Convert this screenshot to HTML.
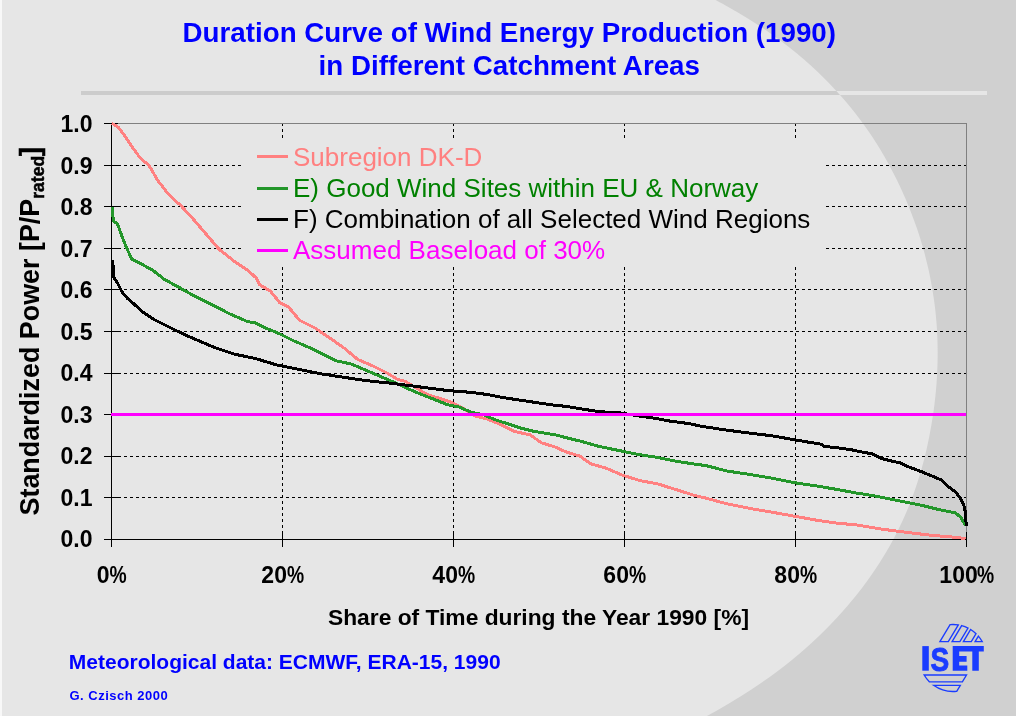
<!DOCTYPE html>
<html><head><meta charset="utf-8"><style>
html,body{margin:0;padding:0;width:1016px;height:716px;overflow:hidden;background:#e6e6e6}
svg{display:block;font-family:"Liberation Sans",sans-serif;will-change:transform}
</style></head><body>
<svg width="1016" height="716" viewBox="0 0 1016 716">
<rect x="0" y="0" width="1016" height="716" fill="#d0d0d0"/>
<path d="M0,0 L715.7,0.0 C719.3,2.0 730.3,8.0 737.1,12.0 C743.9,16.0 750.3,20.0 756.5,24.0 C762.7,28.0 768.5,32.0 774.1,36.0 C779.7,40.0 785.0,44.0 790.1,48.0 C795.2,52.0 800.0,56.0 804.6,60.0 C809.2,64.0 813.6,68.0 817.8,72.0 C822.0,76.0 825.9,80.0 829.8,84.0 C833.6,88.0 837.3,92.0 840.9,96.0 C844.5,100.0 847.9,104.0 851.1,108.0 C854.4,112.0 857.4,116.0 860.4,120.0 C863.4,124.0 866.2,128.0 869.0,132.0 C871.8,136.0 874.4,140.0 876.9,144.0 C879.4,148.0 881.8,152.0 884.1,156.0 C886.4,160.0 888.6,164.0 890.7,168.0 C892.8,172.0 894.9,176.0 896.9,180.0 C898.9,184.0 900.7,188.0 902.5,192.0 C904.3,196.0 906.1,200.0 907.7,204.0 C909.4,208.0 910.9,212.0 912.4,216.0 C913.9,220.0 915.4,224.0 916.8,228.0 C918.2,232.0 919.5,236.0 920.7,240.0 C921.9,244.0 923.1,248.0 924.2,252.0 C925.3,256.0 926.2,260.0 927.2,264.0 C928.2,268.0 929.1,272.0 929.9,276.0 C930.7,280.0 931.4,284.0 932.1,288.0 C932.8,292.0 933.4,296.0 934.0,300.0 C934.6,304.0 935.1,308.0 935.5,312.0 C935.9,316.0 936.3,320.0 936.6,324.0 C936.9,328.0 937.1,332.0 937.3,336.0 C937.5,340.0 937.5,344.0 937.6,348.0 C937.7,352.0 937.7,356.0 937.6,360.0 C937.5,364.0 937.4,368.0 937.2,372.0 C937.0,376.0 936.8,380.0 936.5,384.0 C936.2,388.0 935.8,392.0 935.4,396.0 C935.0,400.0 934.5,404.0 934.0,408.0 C933.5,412.0 932.9,416.0 932.2,420.0 C931.6,424.0 930.9,428.0 930.1,432.0 C929.4,436.0 928.6,440.0 927.7,444.0 C926.9,448.0 926.0,452.0 925.0,456.0 C924.0,460.0 922.9,464.0 921.8,468.0 C920.7,472.0 919.5,476.0 918.2,480.0 C916.9,484.0 915.6,488.0 914.2,492.0 C912.8,496.0 911.3,500.0 909.7,504.0 C908.1,508.0 906.5,512.0 904.7,516.0 C902.9,520.0 901.1,524.0 899.1,528.0 C897.1,532.0 895.1,536.0 893.0,540.0 C890.9,544.0 888.6,548.0 886.2,552.0 C883.8,556.0 881.4,560.0 878.8,564.0 C876.2,568.0 873.5,572.0 870.7,576.0 C867.9,580.0 865.0,584.0 862.0,588.0 C859.0,592.0 855.7,596.0 852.4,600.0 C849.1,604.0 845.7,608.0 842.1,612.0 C838.5,616.0 834.9,620.0 831.0,624.0 C827.1,628.0 823.2,632.0 819.0,636.0 C814.8,640.0 810.5,644.0 806.0,648.0 C801.5,652.0 796.8,656.0 791.9,660.0 C787.0,664.0 781.9,668.0 776.5,672.0 C771.1,676.0 765.5,680.0 759.6,684.0 C753.7,688.0 747.7,692.0 741.3,696.0 C734.9,700.0 727.0,704.7 721.3,708.0 C715.6,711.3 709.3,714.7 706.9,716.0 L0,716 Z" fill="#e6e6e6"/>
<rect x="0" y="0" width="2" height="716" fill="#f8f8f8"/>
<defs><clipPath id="lc"><path d="M0,0 L715.7,0.0 C719.3,2.0 730.3,8.0 737.1,12.0 C743.9,16.0 750.3,20.0 756.5,24.0 C762.7,28.0 768.5,32.0 774.1,36.0 C779.7,40.0 785.0,44.0 790.1,48.0 C795.2,52.0 800.0,56.0 804.6,60.0 C809.2,64.0 813.6,68.0 817.8,72.0 C822.0,76.0 825.9,80.0 829.8,84.0 C833.6,88.0 837.3,92.0 840.9,96.0 C844.5,100.0 847.9,104.0 851.1,108.0 C854.4,112.0 857.4,116.0 860.4,120.0 C863.4,124.0 866.2,128.0 869.0,132.0 C871.8,136.0 874.4,140.0 876.9,144.0 C879.4,148.0 881.8,152.0 884.1,156.0 C886.4,160.0 888.6,164.0 890.7,168.0 C892.8,172.0 894.9,176.0 896.9,180.0 C898.9,184.0 900.7,188.0 902.5,192.0 C904.3,196.0 906.1,200.0 907.7,204.0 C909.4,208.0 910.9,212.0 912.4,216.0 C913.9,220.0 915.4,224.0 916.8,228.0 C918.2,232.0 919.5,236.0 920.7,240.0 C921.9,244.0 923.1,248.0 924.2,252.0 C925.3,256.0 926.2,260.0 927.2,264.0 C928.2,268.0 929.1,272.0 929.9,276.0 C930.7,280.0 931.4,284.0 932.1,288.0 C932.8,292.0 933.4,296.0 934.0,300.0 C934.6,304.0 935.1,308.0 935.5,312.0 C935.9,316.0 936.3,320.0 936.6,324.0 C936.9,328.0 937.1,332.0 937.3,336.0 C937.5,340.0 937.5,344.0 937.6,348.0 C937.7,352.0 937.7,356.0 937.6,360.0 C937.5,364.0 937.4,368.0 937.2,372.0 C937.0,376.0 936.8,380.0 936.5,384.0 C936.2,388.0 935.8,392.0 935.4,396.0 C935.0,400.0 934.5,404.0 934.0,408.0 C933.5,412.0 932.9,416.0 932.2,420.0 C931.6,424.0 930.9,428.0 930.1,432.0 C929.4,436.0 928.6,440.0 927.7,444.0 C926.9,448.0 926.0,452.0 925.0,456.0 C924.0,460.0 922.9,464.0 921.8,468.0 C920.7,472.0 919.5,476.0 918.2,480.0 C916.9,484.0 915.6,488.0 914.2,492.0 C912.8,496.0 911.3,500.0 909.7,504.0 C908.1,508.0 906.5,512.0 904.7,516.0 C902.9,520.0 901.1,524.0 899.1,528.0 C897.1,532.0 895.1,536.0 893.0,540.0 C890.9,544.0 888.6,548.0 886.2,552.0 C883.8,556.0 881.4,560.0 878.8,564.0 C876.2,568.0 873.5,572.0 870.7,576.0 C867.9,580.0 865.0,584.0 862.0,588.0 C859.0,592.0 855.7,596.0 852.4,600.0 C849.1,604.0 845.7,608.0 842.1,612.0 C838.5,616.0 834.9,620.0 831.0,624.0 C827.1,628.0 823.2,632.0 819.0,636.0 C814.8,640.0 810.5,644.0 806.0,648.0 C801.5,652.0 796.8,656.0 791.9,660.0 C787.0,664.0 781.9,668.0 776.5,672.0 C771.1,676.0 765.5,680.0 759.6,684.0 C753.7,688.0 747.7,692.0 741.3,696.0 C734.9,700.0 727.0,704.7 721.3,708.0 C715.6,711.3 709.3,714.7 706.9,716.0 L0,716 Z"/></clipPath></defs>
<rect x="81" y="91" width="906" height="4" fill="#e6e6e6"/>
<rect x="81" y="91" width="906" height="4" fill="#cccccc" clip-path="url(#lc)"/>
<line x1="112" y1="497.5" x2="966" y2="497.5" stroke="#000" stroke-width="1" stroke-dasharray="3 3" shape-rendering="crispEdges"/>
<line x1="112" y1="456.5" x2="966" y2="456.5" stroke="#000" stroke-width="1" stroke-dasharray="3 3" shape-rendering="crispEdges"/>
<line x1="112" y1="414.5" x2="966" y2="414.5" stroke="#000" stroke-width="1" stroke-dasharray="3 3" shape-rendering="crispEdges"/>
<line x1="112" y1="373.5" x2="966" y2="373.5" stroke="#000" stroke-width="1" stroke-dasharray="3 3" shape-rendering="crispEdges"/>
<line x1="112" y1="331.5" x2="966" y2="331.5" stroke="#000" stroke-width="1" stroke-dasharray="3 3" shape-rendering="crispEdges"/>
<line x1="112" y1="289.5" x2="966" y2="289.5" stroke="#000" stroke-width="1" stroke-dasharray="3 3" shape-rendering="crispEdges"/>
<line x1="112" y1="248.5" x2="242" y2="248.5" stroke="#000" stroke-width="1" stroke-dasharray="3 3" shape-rendering="crispEdges"/>
<line x1="826" y1="248.5" x2="966" y2="248.5" stroke="#000" stroke-width="1" stroke-dasharray="3 3" shape-rendering="crispEdges"/>
<line x1="112" y1="206.5" x2="242" y2="206.5" stroke="#000" stroke-width="1" stroke-dasharray="3 3" shape-rendering="crispEdges"/>
<line x1="826" y1="206.5" x2="966" y2="206.5" stroke="#000" stroke-width="1" stroke-dasharray="3 3" shape-rendering="crispEdges"/>
<line x1="112" y1="165.5" x2="242" y2="165.5" stroke="#000" stroke-width="1" stroke-dasharray="3 3" shape-rendering="crispEdges"/>
<line x1="826" y1="165.5" x2="966" y2="165.5" stroke="#000" stroke-width="1" stroke-dasharray="3 3" shape-rendering="crispEdges"/>
<line x1="282.5" y1="123" x2="282.5" y2="138" stroke="#000" stroke-width="1" stroke-dasharray="3 3" shape-rendering="crispEdges"/>
<line x1="282.5" y1="267" x2="282.5" y2="539" stroke="#000" stroke-width="1" stroke-dasharray="3 3" shape-rendering="crispEdges"/>
<line x1="453.5" y1="123" x2="453.5" y2="138" stroke="#000" stroke-width="1" stroke-dasharray="3 3" shape-rendering="crispEdges"/>
<line x1="453.5" y1="267" x2="453.5" y2="539" stroke="#000" stroke-width="1" stroke-dasharray="3 3" shape-rendering="crispEdges"/>
<line x1="624.5" y1="123" x2="624.5" y2="138" stroke="#000" stroke-width="1" stroke-dasharray="3 3" shape-rendering="crispEdges"/>
<line x1="624.5" y1="267" x2="624.5" y2="539" stroke="#000" stroke-width="1" stroke-dasharray="3 3" shape-rendering="crispEdges"/>
<line x1="795.5" y1="123" x2="795.5" y2="138" stroke="#000" stroke-width="1" stroke-dasharray="3 3" shape-rendering="crispEdges"/>
<line x1="795.5" y1="267" x2="795.5" y2="539" stroke="#000" stroke-width="1" stroke-dasharray="3 3" shape-rendering="crispEdges"/>
<line x1="111" y1="123.5" x2="967" y2="123.5" stroke="#808080" stroke-width="1"/>
<line x1="966.5" y1="123" x2="966.5" y2="539" stroke="#808080" stroke-width="1"/>
<line x1="111.5" y1="123" x2="111.5" y2="540" stroke="#000" stroke-width="1"/>
<line x1="111" y1="539.5" x2="967" y2="539.5" stroke="#000" stroke-width="1"/>
<line x1="104" y1="539.5" x2="118" y2="539.5" stroke="#000" stroke-width="1"/>
<line x1="104" y1="497.5" x2="118" y2="497.5" stroke="#000" stroke-width="1"/>
<line x1="104" y1="456.5" x2="118" y2="456.5" stroke="#000" stroke-width="1"/>
<line x1="104" y1="414.5" x2="118" y2="414.5" stroke="#000" stroke-width="1"/>
<line x1="104" y1="373.5" x2="118" y2="373.5" stroke="#000" stroke-width="1"/>
<line x1="104" y1="331.5" x2="118" y2="331.5" stroke="#000" stroke-width="1"/>
<line x1="104" y1="289.5" x2="118" y2="289.5" stroke="#000" stroke-width="1"/>
<line x1="104" y1="248.5" x2="118" y2="248.5" stroke="#000" stroke-width="1"/>
<line x1="104" y1="206.5" x2="118" y2="206.5" stroke="#000" stroke-width="1"/>
<line x1="104" y1="165.5" x2="118" y2="165.5" stroke="#000" stroke-width="1"/>
<line x1="104" y1="123.5" x2="118" y2="123.5" stroke="#000" stroke-width="1"/>
<line x1="111.5" y1="532" x2="111.5" y2="547" stroke="#000" stroke-width="1"/>
<line x1="282.5" y1="532" x2="282.5" y2="547" stroke="#000" stroke-width="1"/>
<line x1="453.5" y1="532" x2="453.5" y2="547" stroke="#000" stroke-width="1"/>
<line x1="624.5" y1="532" x2="624.5" y2="547" stroke="#000" stroke-width="1"/>
<line x1="795.5" y1="532" x2="795.5" y2="547" stroke="#000" stroke-width="1"/>
<line x1="966.5" y1="532" x2="966.5" y2="547" stroke="#000" stroke-width="1"/>
<polyline points="111.8,123.2 118.7,127.7 124.6,135.5 132.4,147.3 140.2,158.0 149.0,165.4 157.8,180.5 167.6,193.2 174.3,200.0 180.3,205.0 192.2,217.9 205.6,233.5 219.0,249.2 234.6,261.5 248.0,270.4 256.1,277.9 259.5,284.6 270.6,291.3 279.6,302.5 288.5,307.0 299.7,320.4 315.3,328.2 328.7,337.2 344.4,348.3 357.8,359.5 373.4,366.2 386.8,372.9 398.0,379.6 405.0,381.2 416.2,387.9 427.3,394.6 438.5,398.0 451.9,402.5 463.1,408.0 474.3,415.9 487.7,419.2 501.1,424.8 514.5,431.5 530.1,434.9 541.3,442.7 555.0,447.0 566.2,452.0 579.6,456.0 590.8,463.8 606.4,468.3 622.0,475.0 639.9,480.6 657.8,483.9 675.7,489.5 693.5,495.1 705.0,497.9 727.3,503.9 749.7,508.4 772.0,512.2 794.4,516.2 816.7,520.2 839.1,523.4 855.0,524.7 880.1,528.9 905.3,532.2 930.4,535.2 955.6,537.3 965.6,538.6" fill="none" stroke="#ff8080" stroke-width="3" stroke-linejoin="round" shape-rendering="crispEdges"/>
<polyline points="112.4,206.9 113.3,221.2 117.3,223.5 121.8,235.8 126.2,246.9 131.8,259.2 140.8,263.7 153.0,270.4 164.2,279.3 178.7,287.2 194.4,296.1 212.3,305.0 230.1,314.0 248.0,321.8 255.0,322.6 266.2,328.2 279.6,333.8 293.0,340.5 308.6,347.2 322.0,353.9 335.4,360.6 351.1,364.0 364.5,369.6 380.1,376.3 398.0,384.1 413.9,391.3 425.1,395.8 436.3,400.2 447.5,404.7 458.6,406.9 472.0,412.5 483.2,414.7 496.6,420.3 507.8,423.7 521.2,428.2 534.6,431.5 548.0,433.7 555.0,434.7 566.2,437.7 581.8,441.5 599.7,446.6 622.0,451.1 637.7,454.4 655.6,457.1 677.9,461.6 700.3,464.9 705.0,465.3 727.3,471.1 749.7,474.4 772.0,478.2 794.4,482.7 816.7,486.0 839.1,489.8 855.0,492.8 871.8,495.4 888.5,498.7 905.3,502.1 922.0,505.4 938.8,509.6 955.6,513.0 960.6,517.1 965.6,525.5" fill="none" stroke="#23962a" stroke-width="3" stroke-linejoin="round" shape-rendering="crispEdges"/>
<polyline points="112.8,260.3 113.5,277.1 117.3,282.7 121.8,291.6 127.3,298.3 134.0,303.9 140.8,310.6 154.2,319.6 167.6,326.3 183.2,334.0 198.9,340.8 214.5,347.5 234.6,354.2 255.0,358.4 277.3,365.1 299.7,369.6 322.0,374.0 344.4,377.4 366.7,380.7 389.1,383.0 405.0,385.0 427.3,387.9 449.7,390.8 472.0,392.4 487.7,394.6 505.6,398.0 527.9,401.3 550.3,404.7 566.2,406.4 581.8,409.0 599.7,411.7 622.0,413.1 637.7,415.8 655.6,418.4 671.2,421.3 689.1,423.6 702.5,426.5 727.3,430.2 749.7,433.1 772.0,435.8 794.4,439.8 810.0,442.4 821.5,444.2 824.2,446.4 836.6,447.7 849.9,449.5 858.7,451.3 872.0,453.9 880.9,458.3 889.7,460.6 900.0,462.8 908.6,466.9 922.0,471.9 932.1,476.1 942.1,480.3 948.8,487.0 955.6,492.0 960.6,498.7 963.9,505.4 965.6,513.0 966.2,526.0" fill="none" stroke="#000" stroke-width="3" stroke-linejoin="round" shape-rendering="crispEdges"/>
<line x1="111" y1="414.5" x2="966" y2="414.5" stroke="#ff00ff" stroke-width="3"/>
<line x1="257" y1="156.5" x2="288" y2="156.5" stroke="#ff8080" stroke-width="3"/>
<text x="293" y="165.8" font-size="26" fill="#ff8080">Subregion DK-D</text>
<line x1="257" y1="188.5" x2="288" y2="188.5" stroke="#23962a" stroke-width="3"/>
<text x="293" y="197" font-size="26" fill="#008000">E) Good Wind Sites within EU &amp; Norway</text>
<line x1="257" y1="219.5" x2="288" y2="219.5" stroke="#000000" stroke-width="3"/>
<text x="293" y="228" font-size="26" fill="#000000">F) Combination of all Selected Wind Regions</text>
<line x1="257" y1="250.5" x2="288" y2="250.5" stroke="#ff00ff" stroke-width="3"/>
<text x="293" y="259" font-size="26" fill="#ff00ff">Assumed Baseload of 30%</text>
<text x="92.5" y="547.0" font-size="23" font-weight="bold" text-anchor="end">0.0</text>
<text x="92.5" y="505.5" font-size="23" font-weight="bold" text-anchor="end">0.1</text>
<text x="92.5" y="464.0" font-size="23" font-weight="bold" text-anchor="end">0.2</text>
<text x="92.5" y="422.5" font-size="23" font-weight="bold" text-anchor="end">0.3</text>
<text x="92.5" y="381.0" font-size="23" font-weight="bold" text-anchor="end">0.4</text>
<text x="92.5" y="339.5" font-size="23" font-weight="bold" text-anchor="end">0.5</text>
<text x="92.5" y="298.0" font-size="23" font-weight="bold" text-anchor="end">0.6</text>
<text x="92.5" y="256.5" font-size="23" font-weight="bold" text-anchor="end">0.7</text>
<text x="92.5" y="215.0" font-size="23" font-weight="bold" text-anchor="end">0.8</text>
<text x="92.5" y="173.5" font-size="23" font-weight="bold" text-anchor="end">0.9</text>
<text x="92.5" y="132.0" font-size="23" font-weight="bold" text-anchor="end">1.0</text>
<text x="96.85" y="583" font-size="23" font-weight="bold">0</text>
<text transform="translate(109.41,583.3) scale(0.84,1.06)" font-size="23" font-weight="bold">%</text>
<text x="261.35" y="583" font-size="23" font-weight="bold">20</text>
<text transform="translate(286.91,583.3) scale(0.84,1.06)" font-size="23" font-weight="bold">%</text>
<text x="432.35" y="583" font-size="23" font-weight="bold">40</text>
<text transform="translate(457.91,583.3) scale(0.84,1.06)" font-size="23" font-weight="bold">%</text>
<text x="603.35" y="583" font-size="23" font-weight="bold">60</text>
<text transform="translate(628.91,583.3) scale(0.84,1.06)" font-size="23" font-weight="bold">%</text>
<text x="774.35" y="583" font-size="23" font-weight="bold">80</text>
<text transform="translate(799.91,583.3) scale(0.84,1.06)" font-size="23" font-weight="bold">%</text>
<text x="939.35" y="583" font-size="23" font-weight="bold">100</text>
<text transform="translate(976.91,583.3) scale(0.84,1.06)" font-size="23" font-weight="bold">%</text>
<text x="538.5" y="624.5" font-size="22.8" font-weight="bold" text-anchor="middle">Share of Time during the Year 1990 [%]</text>
<text transform="translate(39.3,515.5) rotate(-90)" x="0" y="0" font-size="26.9" font-weight="bold">Standardized Power [P/P<tspan font-size="17.5" dy="4.2" stroke="#000" stroke-width="0.5">rated</tspan><tspan dy="-4.2" stroke="#000" stroke-width="0.6">]</tspan></text>
<text x="509.3" y="42" font-size="27.75" font-weight="bold" fill="#0000ff" text-anchor="middle">Duration Curve of Wind Energy Production (1990)</text>
<text x="509.3" y="75" font-size="27.75" font-weight="bold" fill="#0000ff" text-anchor="middle">in Different Catchment Areas</text>
<text x="68.8" y="669" font-size="21" font-weight="bold" fill="#0000ff">Meteorological data: ECMWF, ERA-15, 1990</text>
<text x="69.5" y="700" font-size="13" font-weight="bold" fill="#0000ff" letter-spacing="0.5">G. Czisch 2000</text>
<path d="M939.9,641.6 L950.08,624.63 A33.5,33.5 0 0,1 958.31,624.92 L948.3,641.6 Z M952.1,641.6 L961.67,625.64 A33.5,33.5 0 0,1 968.02,628.06 L959.9,641.6 Z M963.4,641.6 L970.65,629.52 A33.5,33.5 0 0,1 976.05,633.69 L971.3,641.6 Z M975.1,641.6 L978.38,636.13 A33.5,33.5 0 0,1 982.21,641.6 Z M924.13,675.0 L966.50,675.0 L962.36,681.9 L929.53,681.9 A33.5,33.5 0 0,1 924.13,675.0 Z M933.58,685.3 L960.32,685.3 L956.72,691.30 A33.5,33.5 0 0,1 933.58,685.3 Z" fill="none" stroke="#1a3cff" stroke-width="1.35" stroke-linejoin="miter"/>
<g fill="#1a3cff">
<rect x="922.3" y="646.1" width="6.5" height="24.6"/>
<path d="M952.7,646.1 H983.8 V651.5 H978.8 V670.7 H972.3 V651.5 H959.2 V656.1 H966.6 V661.7 H959.2 V665.5 H967.3 V670.7 H952.7 Z"/>
</g>
<text x="0" y="0" transform="translate(930.6,670.7) scale(1.12,1.36)" font-size="25" font-weight="bold" fill="#1a3cff" stroke="#1a3cff" stroke-width="0.7">S</text>
</svg>
</body></html>
